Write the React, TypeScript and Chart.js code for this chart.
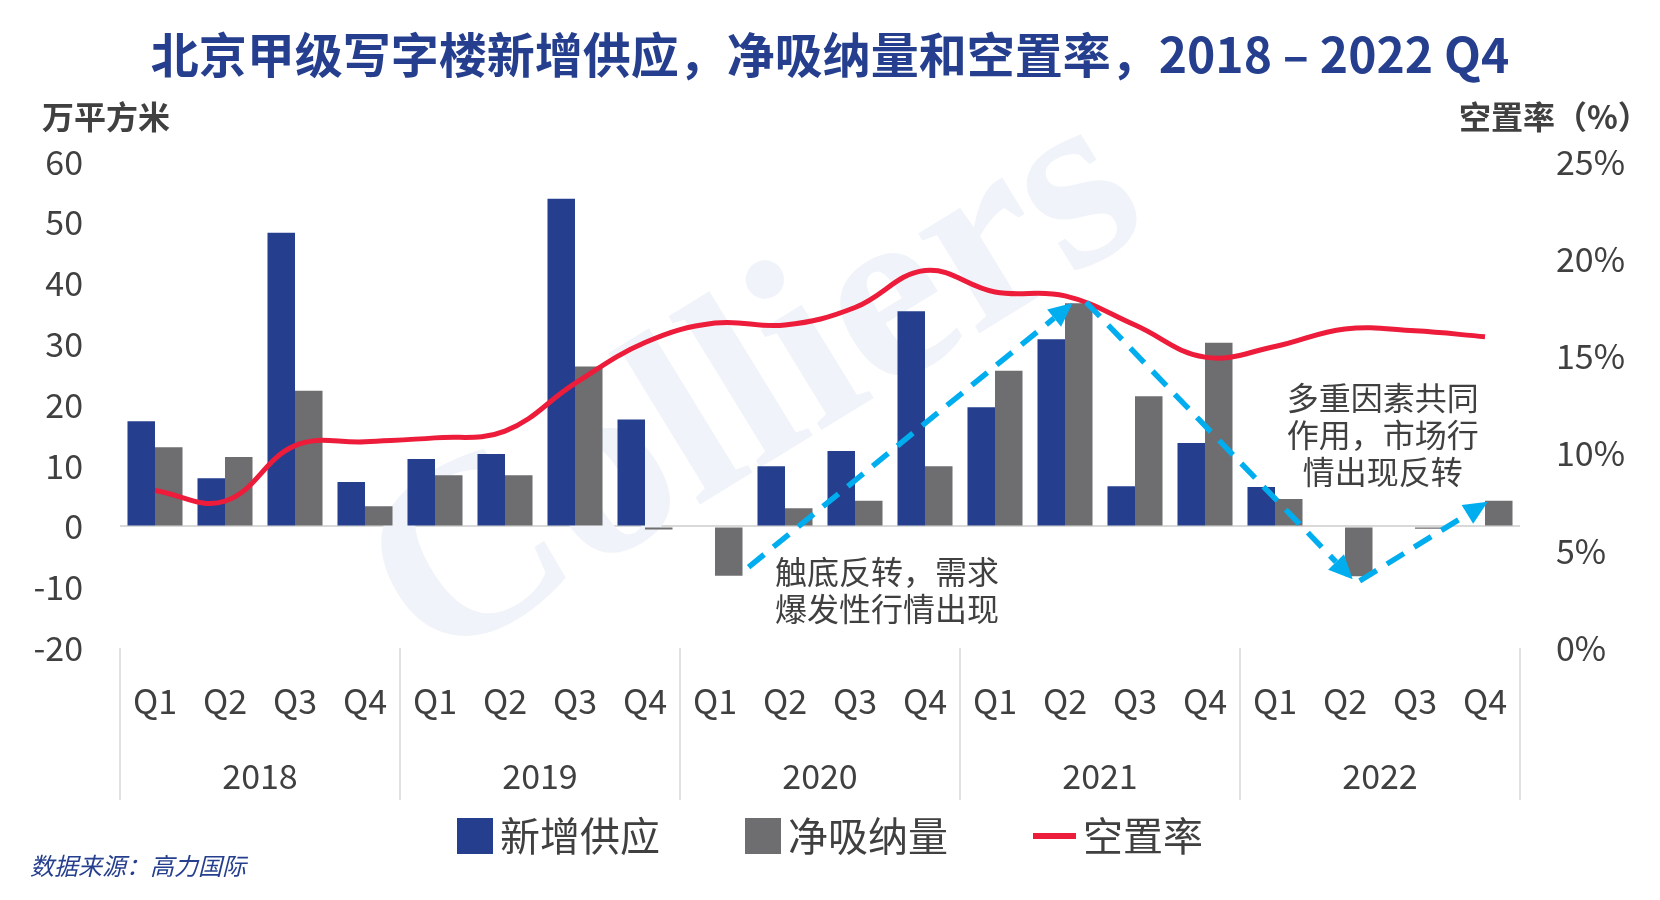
import React, { useEffect, useRef } from "react";
import { Chart, registerables } from "chart.js";

Chart.register(...registerables);

// ---------- data ----------
const years = ["2018", "2019", "2020", "2021", "2022"];
const quarters = ["Q1", "Q2", "Q3", "Q4"];
const categories = years.flatMap(() => quarters);

const newSupply = [17.3, 7.9, 48.3, 7.3, 11.1, 11.9, 53.9, 17.6, 0, 9.9, 12.4, 35.4, 19.6, 30.8, 6.6, 13.7, 6.5, 0, 0, 0];
const netAbsorption = [13.0, 11.4, 22.3, 3.3, 8.4, 8.4, 26.3, -0.5, -8.1, 3.0, 4.2, 9.9, 25.6, 36.7, 21.4, 30.2, 4.5, -8.2, -0.4, 4.2];
const vacancyRate = [8.1, 7.55, 10.4, 10.6, 10.8, 11.15, 13.6, 15.7, 16.7, 16.6, 17.5, 19.4, 18.3, 18.1, 16.6, 14.95, 15.5, 16.4, 16.3, 16.0];

const seriesNames = ["新增供应", "净吸纳量", "空置率"];
const leftAxis = { min: -20, max: 60, step: 10 };
const rightAxis = { min: 0, max: 25, step: 5 };

const titleText = "北京甲级写字楼新增供应，净吸纳量和空置率，2018 – 2022 Q4";
const leftUnit = "万平方米";
const rightUnit = "空置率（%）";
const sourceText = "数据来源：高力国际";

// annotation anchors in data coordinates: [category index, left-axis value]
const arrows = [
  { from: [8.48, -6.7], to: [13.11, 36.75] },
  { from: [13.3, 36.9], to: [17.11, -8.7] },
  { from: [17.21, -8.95], to: [19.04, 4.05] },
];
const notes = [
  { lines: ["触底反转，需求", "爆发性行情出现"], at: [8.857, -7.5], align: "left" },
  { lines: ["多重因素共同", "作用，市场行", "情出现反转"], at: [17.54, 21.1], align: "center" },
];

// ---------- styles ----------
const FONT = '"Noto Sans CJK SC", "Noto Sans", sans-serif';
const BLUE = "#253F8E";
const GRAY = "#6E6E70";
const RED = "#EC1C3A";
const ARROW = "#00AEEF";
const TEXT = "#404040";

function drawArrow(ctx: CanvasRenderingContext2D, x1: number, y1: number, x2: number, y2: number) {
  const ang = Math.atan2(y2 - y1, x2 - x1);
  const head = 24;
  const hw = 11;
  const ex = x2 - head * Math.cos(ang);
  const ey = y2 - head * Math.sin(ang);
  ctx.save();
  ctx.strokeStyle = ARROW;
  ctx.lineWidth = 5.5;
  ctx.setLineDash([20, 12]);
  ctx.beginPath();
  ctx.moveTo(x1, y1);
  ctx.lineTo(ex, ey);
  ctx.stroke();
  ctx.setLineDash([]);
  ctx.fillStyle = ARROW;
  ctx.beginPath();
  ctx.moveTo(x2, y2);
  ctx.lineTo(ex + hw * Math.sin(ang), ey - hw * Math.cos(ang));
  ctx.lineTo(ex - hw * Math.sin(ang), ey + hw * Math.cos(ang));
  ctx.closePath();
  ctx.fill();
  ctx.restore();
}

const decorPlugin = {
  id: "decor",
  beforeDatasetsDraw(chart: any) {
    const ctx = chart.ctx as CanvasRenderingContext2D;
    // faint watermark
    ctx.save();
    ctx.translate(430, 670);
    ctx.rotate(-0.55);
    ctx.fillStyle = "#F0F3F9";
    ctx.font = 'bold 255px "Liberation Serif", serif';
    ctx.textBaseline = "alphabetic";
    ctx.fillText("Colliers", 0, 0);
    ctx.restore();
  },
  afterDatasetsDraw(chart: any) {
    const ctx = chart.ctx as CanvasRenderingContext2D;
    const xs = chart.scales.x;
    const ys = chart.scales.y;
    arrows.forEach((a) => {
      drawArrow(
        ctx,
        xs.getPixelForValue(a.from[0]),
        ys.getPixelForValue(a.from[1]),
        xs.getPixelForValue(a.to[0]),
        ys.getPixelForValue(a.to[1])
      );
    });
    ctx.save();
    ctx.fillStyle = TEXT;
    ctx.font = `32px ${FONT}`;
    ctx.textBaseline = "middle";
    notes.forEach((n) => {
      const x = xs.getPixelForValue(n.at[0]);
      const y = ys.getPixelForValue(n.at[1]);
      ctx.textAlign = n.align as CanvasTextAlign;
      n.lines.forEach((line, i) => ctx.fillText(line, x, y + i * 37));
    });
    ctx.restore();
  },
  afterDraw(chart: any) {
    const ctx = chart.ctx as CanvasRenderingContext2D;
    const xs = chart.scales.x;
    const area = chart.chartArea;
    const yr = chart.scales.xYear;
    // year separators
    ctx.save();
    ctx.strokeStyle = "#D9D9D9";
    ctx.lineWidth = 1.5;
    for (let k = 0; k <= years.length; k++) {
      let px: number;
      if (k === 0) px = area.left;
      else if (k === years.length) px = area.right;
      else px = (xs.getPixelForValue(k * 4 - 1) + xs.getPixelForValue(k * 4)) / 2;
      ctx.beginPath();
      ctx.moveTo(px, area.bottom);
      ctx.lineTo(px, yr.bottom);
      ctx.stroke();
    }
    ctx.restore();

    // axis unit labels
    ctx.save();
    ctx.fillStyle = TEXT;
    ctx.font = `bold 32px ${FONT}`;
    ctx.textBaseline = "middle";
    ctx.textAlign = "left";
    ctx.fillText(leftUnit, 42, 117);
    ctx.fillText(rightUnit, 1459, 117);
    ctx.restore();

    // legend
    ctx.save();
    ctx.font = `40px ${FONT}`;
    ctx.textBaseline = "middle";
    ctx.textAlign = "left";
    const ly = 836;
    const items = chart.data.datasets.map((d: any) => ({
      label: d.label as string,
      color: (d.type === "line" ? d.borderColor : d.backgroundColor) as string,
      isLine: d.type === "line",
      w: ctx.measureText(d.label).width,
    }));
    const markerW = (it: any) => (it.isLine ? 43 : 36);
    const gapText = 7;
    const gapItem = 85;
    let total = 0;
    items.forEach((it: any, i: number) => {
      total += markerW(it) + gapText + it.w + (i < items.length - 1 ? gapItem : 0);
    });
    let x = 830 - total / 2;
    items.forEach((it: any) => {
      ctx.fillStyle = it.color;
      if (it.isLine) {
        ctx.fillRect(x, ly - 3, 43, 6);
      } else {
        ctx.fillRect(x, ly - 18, 36, 36);
      }
      x += markerW(it) + gapText;
      ctx.fillStyle = TEXT;
      ctx.fillText(it.label, x, ly);
      x += it.w + gapItem;
    });
    ctx.restore();

    // source
    ctx.save();
    ctx.fillStyle = BLUE;
    ctx.font = `italic 24px ${FONT}`;
    ctx.textBaseline = "middle";
    ctx.textAlign = "left";
    ctx.fillText(sourceText, 30, 866);
    ctx.restore();
  },
};

export default function App() {
  const ref = useRef<HTMLCanvasElement>(null);

  useEffect(() => {
    document.body.style.margin = "0";
    const canvas = ref.current;
    if (!canvas) return;
    const tickFont = { family: FONT, size: 34 };
    const chart = new Chart(canvas, {
      type: "bar",
      data: {
        labels: categories,
        datasets: [
          {
            type: "bar",
            label: seriesNames[0],
            data: newSupply,
            yAxisID: "y",
            backgroundColor: BLUE,
            categoryPercentage: 0.786,
            barPercentage: 1.0,
            order: 1,
          },
          {
            type: "bar",
            label: seriesNames[1],
            data: netAbsorption,
            yAxisID: "y",
            backgroundColor: GRAY,
            categoryPercentage: 0.786,
            barPercentage: 1.0,
            order: 1,
          },
          {
            type: "line",
            label: seriesNames[2],
            data: vacancyRate,
            yAxisID: "y1",
            borderColor: RED,
            backgroundColor: RED,
            borderWidth: 5,
            tension: 0.4,
            pointRadius: 0,
            order: 0,
          } as any,
        ],
      },
      options: {
        responsive: false,
        animation: false,
        devicePixelRatio: 1,
        layout: { padding: { top: 0, left: 0, right: 0, bottom: 100 } },
        plugins: {
          legend: { display: false },
          tooltip: { enabled: false },
          title: {
            display: true,
            text: titleText,
            color: BLUE,
            font: { family: FONT, size: 48, weight: "bold", lineHeight: 1.2 },
            padding: { top: 26, bottom: 78 },
          },
        },
        scales: {
          x: {
            type: "category",
            position: "bottom",
            weight: 0,
            offset: true,
            grid: { display: false, drawTicks: false },
            border: { display: false },
            ticks: { font: tickFont, color: TEXT, padding: 33, maxRotation: 0, autoSkip: false },
            afterFit: (s: any) => {
              s.height = 74;
            },
          },
          xYear: {
            type: "category",
            position: "bottom",
            weight: 1,
            labels: years,
            offset: true,
            grid: { display: false, drawTicks: false },
            border: { display: false },
            ticks: { font: tickFont, color: TEXT, padding: 34, maxRotation: 0, autoSkip: false },
            afterFit: (s: any) => {
              s.height = 78;
            },
          },
          y: {
            position: "left",
            min: leftAxis.min,
            max: leftAxis.max,
            ticks: { stepSize: leftAxis.step, font: tickFont, color: TEXT, padding: 37 },
            grid: {
              drawTicks: false,
              lineWidth: 2,
              color: (c: any) => (c.tick && c.tick.value === 0 ? "#D9D9D9" : "rgba(0,0,0,0)"),
            },
            border: { display: false },
            afterFit: (s: any) => {
              s.width = 120;
            },
          },
          y1: {
            position: "right",
            min: rightAxis.min,
            max: rightAxis.max,
            ticks: {
              stepSize: rightAxis.step,
              font: tickFont,
              color: TEXT,
              padding: 36,
              callback: (v: any) => `${v}%`,
            },
            grid: { display: false, drawTicks: false },
            border: { display: false },
            afterFit: (s: any) => {
              s.width = 140;
            },
          },
        },
      },
      plugins: [decorPlugin],
    } as any);
    return () => chart.destroy();
  }, []);

  return (
    <div style={{ width: 1660, height: 900, background: "#ffffff" }}>
      <canvas ref={ref} width={1660} height={900} style={{ display: "block", width: 1660, height: 900 }} />
    </div>
  );
}
